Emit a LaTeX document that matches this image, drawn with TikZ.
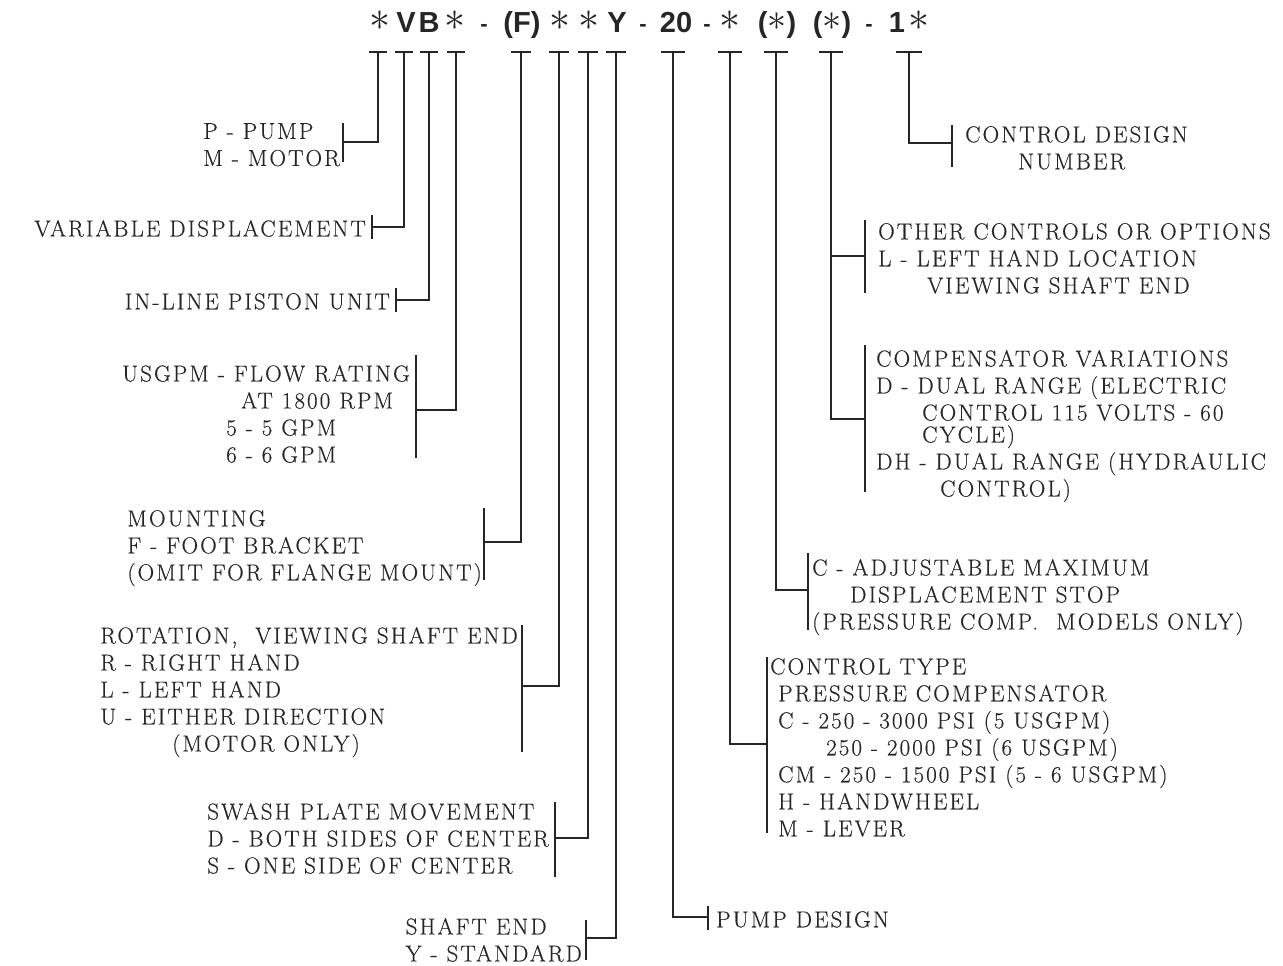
\documentclass[tikz,border=0pt]{standalone}
\usepackage{graphicx}
\usepackage{fontspec}
\setmainfont{Latin Modern Roman}[LetterSpace=9,FakeBold=0.4]
\newfontfamily\hdr{Liberation Sans}
\definecolor{ink}{gray}{0.15}
\tikzset{
  lab/.style={anchor=north west, inner sep=0pt, align=left, text=ink,
              font=\fontsize{23}{27}\selectfont},
  labr/.style={lab, anchor=north east},
  hb/.style={anchor=base, inner sep=0pt, text=ink, font=\hdr\bfseries\fontsize{29}{29}\selectfont},
  hd/.style={anchor=base, inner sep=0pt, text=ink, font=\hdr\bfseries\fontsize{22}{22}\selectfont},
  ln/.style={line width=1.2pt, draw=ink},
}
\newcommand{\ak}[1][4.2]{\raisebox{2.5pt}{\fontsize{10}{10}\selectfont\scalebox{#1}{$\ast$}}}
\begin{document}
\begin{tikzpicture}[x=1pt,y=-1pt]
\fill[white] (0,0) rectangle (1283,966);
\useasboundingbox (0,0) rectangle (1283,966);

% ---- header code ----
\node[hb] (s1) at (380,33) {\ak};
\node[hb] (hV) at (406,33) {V};
\node[hb] (hB) at (429,33) {B};
\node[hb] (s2) at (455,33) {\ak};
\node[hd] (d1) at (484,32) {-};
\node[hb] (hF) at (522,33) {(F)};
\node[hb] (s3) at (560,33) {\ak};
\node[hb] (s4) at (589,33) {\ak};
\node[hb] (hY) at (617,33) {Y};
\node[hd] (d2) at (643,32) {-};
\node[hb] (h20) at (676,33) {20};
\node[hd] (d3) at (707,32) {-};
\node[hb] (s5) at (730,33) {\ak};
\node[hb] (p1) at (777,33) {(\ak[3.8])};
\node[hb] (p2) at (832,33) {(\ak[3.8])};
\node[hd] (d4) at (869,32) {-};
\node[hb] (h1) at (897,33) {1};
\node[hb] (s6) at (919,33) {\ak};

% ---- ticks and leaders ----
% n / tick x / half bar / bracket x / branch y / bracket top / bracket bottom
\foreach \n/\x/\w/\bx/\by/\ta/\tb in {
   1/378/9/343/142/123/162,
   2/404/9/372/227/215/239,
   3/429/9/396/300/288/312,
   4/456/9/416/410/355/458,
   5/521/10/484/542/508/580,
   6/559/10/522/686/625/752,
   7/588/10/555/838/802/877,
   8/616/10/586/938/920/960,
   9/673/12/708/917/906/930,
  10/730/12/767/744/657/833,
  11/776/12/808/590/553/630,
  13/909/13/952/143/125/167}{
  \coordinate (t\n) at (\x,52);
  \coordinate (j\n) at (\bx,\by);
  \coordinate (u\n) at (\bx,\ta);
  \coordinate (v\n) at (\bx,\tb);
  \draw[ln] ([xshift=-\w pt]t\n) -- ([xshift=\w pt]t\n);
  \draw[ln] (t\n) |- (j\n);
  \draw[ln] (u\n) -- (v\n);
}
% tick 12 has two branches
\coordinate (t12) at (831,52);
\coordinate (j12a) at (865,256);
\coordinate (u12a) at (865,220);
\coordinate (v12a) at (865,293);
\coordinate (j12b) at (865,419);
\coordinate (u12b) at (865,345);
\coordinate (v12b) at (865,492);
\draw[ln] ([xshift=-12pt]t12) -- ([xshift=12pt]t12);
\draw[ln] (t12) |- (j12b);
\draw[ln] (t12) |- (j12a);
\draw[ln] (u12a) -- (v12a);
\draw[ln] (u12b) -- (v12b);

% ---- left labels (right edge against the bracket) ----
\node[labr] (pm) at (340,123) {P - PUMP\\M - MOTOR};
\node[labr] (vd) at (366,220) {VARIABLE DISPLACEMENT};
\node[labr] (ip) at (390,293) {IN-LINE PISTON UNIT};
\node[labr] (us) at (410,365) {USGPM - FLOW RATING\\\hspace*{119pt}AT 1800 RPM\\\hspace*{104pt}5 - 5 GPM\\\hspace*{104pt}6 - 6 GPM};
\node[labr] (mt) at (482,510) {MOUNTING\\F - FOOT BRACKET\\(OMIT FOR FLANGE MOUNT)};
\node[labr] (rt) at (518,627) {ROTATION,\ \ VIEWING SHAFT END\\R - RIGHT HAND\\L - LEFT HAND\\U - EITHER DIRECTION\\\hspace*{72pt}(MOTOR ONLY)};
\node[labr] (sw) at (549,803) {SWASH PLATE MOVEMENT\\D - BOTH SIDES OF CENTER\\S - ONE SIDE OF CENTER};
\node[labr] (se) at (582,918) {SHAFT END\\Y - STANDARD};

% ---- right labels ----
\node[lab] (pd) at (716,911) {PUMP DESIGN};
\node[lab] (ct) at (770,658) {CONTROL TYPE\\\hspace*{8pt}PRESSURE COMPENSATOR\\\hspace*{8pt}C - 250 - 3000 PSI (5 USGPM)\\\hspace*{56pt}250 - 2000 PSI (6 USGPM)\\\hspace*{8pt}CM - 250 - 1500 PSI (5 - 6 USGPM)\\\hspace*{8pt}H - HANDWHEEL\\\hspace*{8pt}M - LEVER};
\node[lab] (ca) at (812,559) {C - ADJUSTABLE MAXIMUM\\\hspace*{38pt}DISPLACEMENT STOP\\(PRESSURE COMP.\ \ MODELS ONLY)};
\node[lab] (cv) at (876,350) {COMPENSATOR VARIATIONS\\D - DUAL RANGE (ELECTRIC\\\hspace*{46pt}CONTROL 115 VOLTS - 60\\[-5pt]\hspace*{46pt}CYCLE)\\DH - DUAL RANGE (HYDRAULIC\\\hspace*{64pt}CONTROL)};
\node[lab] (oc) at (878,223) {OTHER CONTROLS OR OPTIONS\\L - LEFT HAND LOCATION\\\hspace*{49pt}VIEWING SHAFT END};
\node[lab] (cd) at (965,126) {CONTROL DESIGN\\\hspace*{53pt}NUMBER};
\end{tikzpicture}
\end{document}
